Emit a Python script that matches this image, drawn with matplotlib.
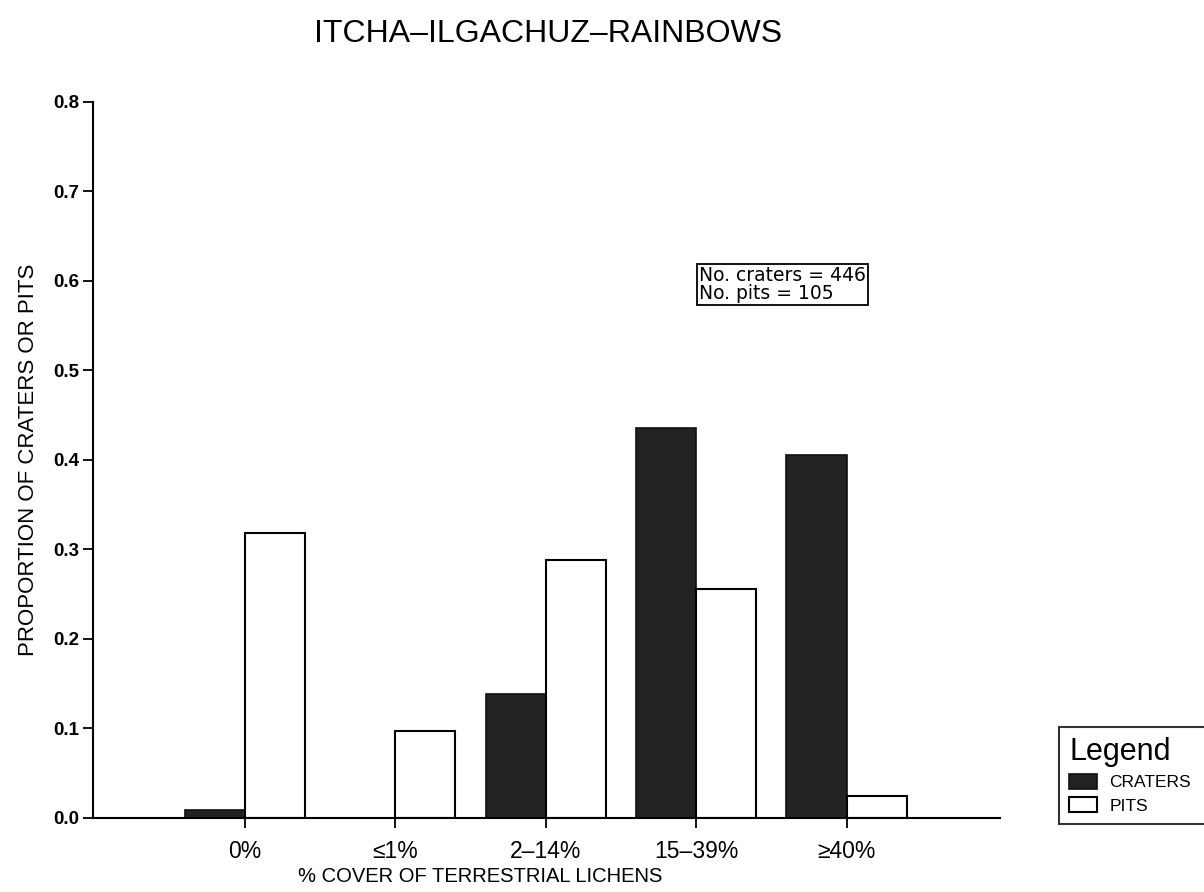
import matplotlib
matplotlib.use("Agg")
import matplotlib.pyplot as plt
import numpy as np

# ==========================================
# DATA
# ==========================================

cover_classes = ["0%", "≤1%", "2–14%", "15–39%", "≥40%"]

craters = [0.009, 0.0, 0.138, 0.436, 0.405]

pits = [0.318, 0.097, 0.288, 0.256, 0.025]

n_craters = 446
n_pits = 105

y_ticks = [0.0, 0.1, 0.2, 0.3, 0.4, 0.5, 0.6, 0.7, 0.8]

# ==========================================
# FIGURE
# ==========================================

plt.rcParams["font.family"] = ["Liberation Sans", "DejaVu Sans"]

fig = plt.figure(figsize=(12.04, 8.92), dpi=100)

ax = fig.add_axes([0.0772, 0.083, 0.7533, 0.8027])

x = np.arange(len(cover_classes))
width = 0.4

ax.bar(
    x - width,
    craters,
    width=width,
    align="edge",
    color="#222222",
    edgecolor="#111111",
    linewidth=1.2,
    label="CRATERS"
)

ax.bar(
    x,
    pits,
    width=width,
    align="edge",
    color="white",
    edgecolor="black",
    linewidth=1.5,
    label="PITS"
)

# ==========================================
# AXES
# ==========================================

ax.set_xlim(-1.01, 5.02)
ax.set_ylim(0, 0.8)

for side in ["top", "right"]:
    ax.spines[side].set_visible(False)

for side in ["left", "bottom"]:
    ax.spines[side].set_linewidth(1.5)

ax.set_yticks(y_ticks)
ax.set_yticklabels([f"{v:.1f}" for v in y_ticks], fontsize=13.5, fontweight="bold")

ax.set_xticks(x)
ax.set_xticklabels(cover_classes, fontsize=16.5)

ax.tick_params(axis="both", direction="out", length=7, width=1.3)
ax.tick_params(axis="x", pad=9)
ax.tick_params(axis="y", pad=3)

ax.set_ylabel("PROPORTION OF CRATERS OR PITS", fontsize=16, labelpad=10)

fig.text(
    480 / 1204, 1 - 877 / 892,
    "% COVER OF TERRESTRIAL LICHENS",
    ha="center", va="center", fontsize=14.5
)

fig.text(
    548 / 1204, 1 - 34 / 892,
    "ITCHA–ILGACHUZ–RAINBOWS",
    ha="center", va="center", fontsize=23
)

# sample size box
ax.text(
    3.02, 0.617,
    f"No. craters = {n_craters}\nNo. pits = {n_pits}",
    fontsize=13.5,
    family=["DejaVu Sans"],
    va="top", ha="left",
    linespacing=0.95,
    bbox=dict(boxstyle="square,pad=0.1", facecolor="white",
              edgecolor="black", linewidth=1.3)
)

# ==========================================
# LEGEND
# ==========================================

leg = fig.legend(
    loc="lower left",
    bbox_to_anchor=(1059 / 1204, 1 - 824 / 892, 0.16, 0.12),
    mode="expand",
    title="Legend",
    fontsize=12.5,
    title_fontsize=22,
    frameon=True,
    fancybox=False,
    handlelength=1.6,
    handleheight=0.9,
    handletextpad=0.7,
    labelspacing=0.4,
    borderaxespad=0,
    borderpad=0.6,
)
leg.get_frame().set_edgecolor("black")
leg.get_frame().set_linewidth(1.5)
leg._legend_box.align = "left"

plt.savefig("out.png", dpi=100)
